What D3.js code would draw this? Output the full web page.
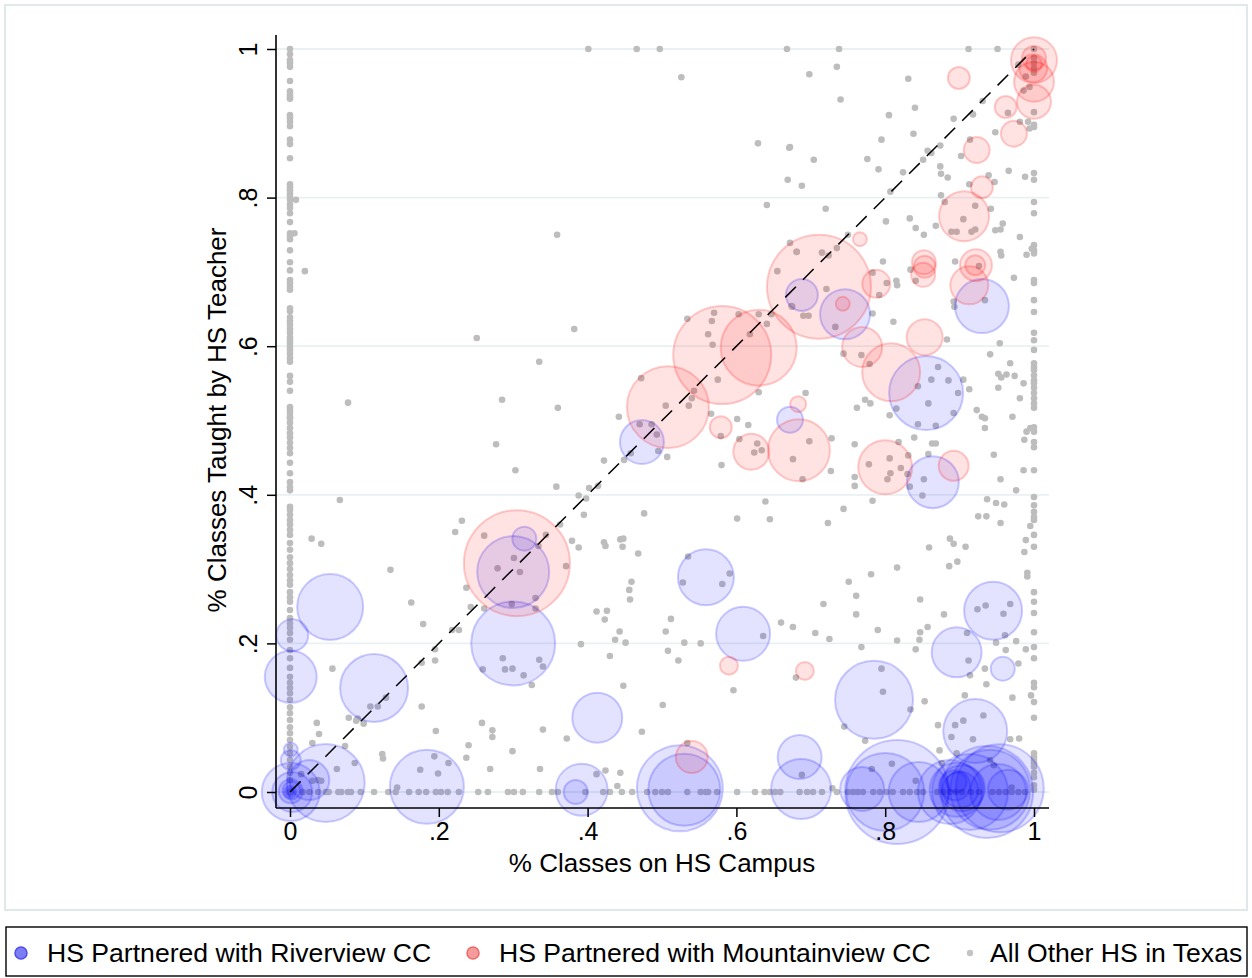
<!DOCTYPE html>
<html>
<head>
<meta charset="utf-8">
<script src="https://cdn.jsdelivr.net/npm/d3@7"></script>
<style>
  body { margin: 0; background: #fff; }
  svg text { font-family: "Liberation Sans", Arial, Helvetica, sans-serif; fill: #000; }
</style>
</head>
<body>
<script>
// tick values on both axes
var tickValues = [0, 0.2, 0.4, 0.6, 0.8, 1];

// HS partnered with Riverview CC: [share on HS campus, share taught by HS teacher, enrollment weight]
var riverview = [
  [0.001, 0, 841], [0.003, 0, 400], [0.001, 0.001, 144], [0, 0, 36], [0, 0, 16], [0.002, 0.002, 81],
  [0.026, 0.016, 400], [0.001, 0.043, 100], [0.001, 0.057, 49], [0.048, 0.012, 1521],
  [0.001, 0.155, 676], [0.003, 0.211, 256], [0.054, 0.249, 1089], [0.113, 0.14, 1156],
  [0.184, 0.007, 1369], [0.3, 0.2, 1764], [0.3, 0.296, 1296], [0.315, 0.341, 144],
  [0.413, 0.1, 625], [0.392, 0.003, 676], [0.384, 0, 144], [0.524, 0.005, 1849], [0.53, 0.003, 1296],
  [0.473, 0.471, 484], [0.559, 0.289, 784], [0.609, 0.213, 729], [0.685, 0.047, 484], [0.687, 0.004, 900],
  [0.785, 0.124, 1521], [0.816, 0, 2704], [0.8, 0, 1521], [0.845, 0, 900], [0.769, 0.004, 484],
  [0.896, 0.003, 729], [0.903, 0.005, 529], [0.937, 0, 2116], [0.941, 0.003, 1600], [0.952, 0, 784],
  [0.965, 0.003, 400], [0.896, 0.013, 100], [0.887, 0, 1024], [0.914, 0, 1444], [0.954, 0.005, 1936],
  [0.894, 0.009, 225], [0.901, 0.003, 324],
  [0.921, 0.082, 1024], [0.896, 0.188, 625], [0.958, 0.166, 144], [0.945, 0.244, 841],
  [0.864, 0.417, 676], [0.855, 0.537, 1369], [0.93, 0.654, 729], [0.746, 0.643, 625],
  [0.688, 0.669, 256], [0.672, 0.501, 169]
];

// HS partnered with Mountainview CC
var mountainview = [
  [0.305, 0.308, 2809], [0.508, 0.518, 1681], [0.581, 0.588, 2401], [0.63, 0.598, 1444],
  [0.711, 0.68, 2704], [0.579, 0.491, 121], [0.62, 0.458, 324], [0.684, 0.46, 961],
  [0.683, 0.522, 64], [0.743, 0.657, 49], [0.766, 0.744, 49], [0.788, 0.684, 196],
  [0.769, 0.599, 400], [0.808, 0.565, 841], [0.8, 0.437, 729], [0.892, 0.439, 225],
  [0.853, 0.612, 324], [0.852, 0.713, 144], [0.853, 0.707, 121], [0.851, 0.696, 144],
  [0.913, 0.682, 361], [0.922, 0.709, 256], [0.921, 0.709, 100], [0.906, 0.775, 625],
  [0.93, 0.814, 121], [0.923, 0.864, 169], [0.973, 0.886, 169], [0.962, 0.922, 121],
  [0.899, 0.961, 121], [1, 0.985, 529], [1, 0.956, 400], [1, 0.929, 289],
  [1, 0.988, 144], [0.999, 0.974, 196], [1, 0.98, 64],
  [0.54, 0.047, 256], [0.59, 0.17, 81], [0.692, 0.163, 81]
];

// all other HS in Texas with no classes on HS campus (y values)
var otherNoCampus = [1, 0.993, 0.985, 0.981, 0.976, 0.957, 0.943, 0.939, 0.935, 0.933, 0.911, 0.907, 0.902,
  0.896, 0.878, 0.872, 0.853, 0.818, 0.814, 0.81, 0.805, 0.801, 0.797, 0.791, 0.786, 0.779, 0.767, 0.752,
  0.748, 0.744, 0.729, 0.713, 0.702, 0.689, 0.685, 0.68, 0.676, 0.651, 0.647, 0.639, 0.634, 0.629, 0.623,
  0.618, 0.612, 0.608, 0.604, 0.599, 0.595, 0.59, 0.584, 0.579, 0.56, 0.552, 0.54, 0.518, 0.514, 0.51,
  0.505, 0.503, 0.497, 0.49, 0.483, 0.477, 0.47, 0.463, 0.456, 0.443, 0.429, 0.417, 0.41, 0.406, 0.384,
  0.38, 0.373, 0.366, 0.36, 0.353, 0.346, 0.335, 0.326, 0.316, 0.308, 0.3, 0.292, 0.285, 0.279, 0.269,
  0.262, 0.256, 0.245, 0.234, 0.227, 0.221, 0.214, 0.205, 0.191, 0.18, 0.167, 0.155, 0.147, 0.14, 0.133,
  0.124, 0.114, 0.106, 0.097, 0.087, 0.079, 0.07, 0.061, 0.052, 0.043, 0.034, 0.026, 0.016, 0];

// other HS with no classes taught by HS teacher (x values)
var otherNoTeacher = [0.017, 0.026, 0.038, 0.048, 0.052, 0.065, 0.069, 0.078, 0.082, 0.095, 0.113, 0.132,
  0.142, 0.16, 0.173, 0.183, 0.196, 0.203, 0.212, 0.227, 0.253, 0.266, 0.293, 0.301, 0.313, 0.335, 0.352,
  0.36, 0.397, 0.421, 0.43, 0.446, 0.46, 0.48, 0.491, 0.5, 0.508, 0.534, 0.552, 0.559, 0.562, 0.574, 0.601,
  0.625, 0.638, 0.645, 0.652, 0.659, 0.685, 0.695, 0.703, 0.715, 0.735, 0.75, 0.757, 0.763, 0.77, 0.784,
  0.793, 0.802, 0.81, 0.824, 0.833, 0.843, 0.851, 0.87, 0.878, 0.887, 0.895, 0.903, 0.915, 0.926, 0.944,
  0.953, 0.962, 0.97, 0.979, 0.988];

// other HS with all classes on HS campus (y values)
var otherAllCampus = [1, 0.988, 0.981, 0.974, 0.968, 0.915, 0.898, 0.895, 0.833, 0.824, 0.794, 0.779, 0.736,
  0.729, 0.725, 0.689, 0.685, 0.662, 0.646, 0.618, 0.608, 0.595, 0.577, 0.572, 0.568, 0.561, 0.554, 0.55,
  0.544, 0.537, 0.53, 0.523, 0.517, 0.491, 0.485, 0.471, 0.464, 0.433, 0.397, 0.386, 0.377, 0.37, 0.366,
  0.346, 0.33, 0.269, 0.256, 0.241, 0.215, 0.195, 0.18, 0.147, 0.141, 0.121, 0.1, 0.052, 0.047, 0.043,
  0.039, 0.034, 0.026, 0.02, 0.009, 0.003];

// remaining other HS [x, y]
var otherScattered = [
  [0.401, 1], [0.466, 1], [0.497, 1], [0.668, 1], [0.526, 0.962], [0.629, 0.873], [0.671, 0.867],
  [0.669, 0.824], [0.641, 0.79], [0.359, 0.75], [0.382, 0.623], [0.335, 0.579], [0.36, 0.517],
  [0.442, 0.505], [0.472, 0.557], [0.505, 0.52], [0.536, 0.52], [0.54, 0.53], [0.543, 0.54],
  [0.575, 0.555], [0.562, 0.616], [0.568, 0.602], [0.567, 0.634], [0.57, 0.645], [0.534, 0.637],
  [0.603, 0.643], [0.618, 0.616], [0.63, 0.643], [0.641, 0.63], [0.647, 0.643], [0.63, 0.538],
  [0.655, 0.701], [0.672, 0.739], [0.681, 0.727], [0.675, 0.653], [0.566, 0.509], [0.601, 0.502],
  [0.008, 0.797], [0.006, 0.752], [0.02, 0.701], [0.251, 0.611], [0.078, 0.524], [0.285, 0.528],
  [0.738, 1], [0.912, 1], [0.951, 1], [0.735, 0.976], [0.698, 0.966], [0.831, 0.96], [0.74, 0.932],
  [0.84, 0.921], [0.805, 0.911], [0.892, 0.906], [0.918, 0.912], [0.931, 0.93], [0.981, 0.902],
  [0.992, 0.902], [0.994, 0.893], [0.965, 0.914], [0.948, 0.888], [0.986, 0.944], [0.994, 0.949],
  [0.989, 0.963], [0.979, 0.979], [0.795, 0.878], [0.838, 0.886], [0.914, 0.878], [0.902, 0.856],
  [0.862, 0.86], [0.857, 0.863], [0.874, 0.87], [0.851, 0.851], [0.776, 0.852], [0.704, 0.851],
  [0.672, 0.868], [0.791, 0.838], [0.824, 0.834], [0.874, 0.842], [0.875, 0.832], [0.884, 0.827],
  [0.913, 0.818], [0.939, 0.83], [0.947, 0.821], [0.966, 0.836], [0.988, 0.828], [0.688, 0.816],
  [0.807, 0.808], [0.875, 0.803], [0.88, 0.794], [0.921, 0.789], [0.942, 0.785], [0.72, 0.785],
  [0.801, 0.768], [0.833, 0.772], [0.841, 0.759], [0.852, 0.75], [0.868, 0.762], [0.889, 0.754],
  [0.896, 0.754], [0.905, 0.771], [0.916, 0.754], [0.921, 0.757], [0.948, 0.756], [0.955, 0.757],
  [0.958, 0.765], [0.981, 0.747], [0.75, 0.75], [0.681, 0.727], [0.715, 0.726], [0.724, 0.722],
  [0.735, 0.732], [0.797, 0.714], [0.834, 0.703], [0.841, 0.688], [0.894, 0.714], [0.926, 0.708],
  [0.955, 0.727], [0.956, 0.722], [0.99, 0.723], [0.997, 0.731], [0.973, 0.692], [0.783, 0.699],
  [0.802, 0.685], [0.815, 0.688], [0.816, 0.682], [0.792, 0.669], [0.721, 0.677], [0.783, 0.644],
  [0.811, 0.633], [0.733, 0.626], [0.69, 0.641], [0.697, 0.641], [0.674, 0.654], [0.934, 0.662],
  [0.892, 0.66], [0.893, 0.653], [0.883, 0.609], [0.954, 0.604], [0.941, 0.589], [0.968, 0.577],
  [0.952, 0.563], [0.956, 0.558], [0.963, 0.562], [0.974, 0.56], [0.986, 0.55], [0.952, 0.544],
  [0.981, 0.53], [0.744, 0.59], [0.768, 0.588], [0.779, 0.576], [0.871, 0.572], [0.885, 0.554],
  [0.862, 0.555], [0.844, 0.546], [0.905, 0.555], [0.913, 0.542], [0.898, 0.537], [0.858, 0.523],
  [0.815, 0.516], [0.806, 0.507], [0.762, 0.517], [0.773, 0.528], [0.78, 0.523], [0.693, 0.537],
  [0.923, 0.514], [0.93, 0.505], [0.971, 0.505],
  [0.067, 0.393], [0.277, 0.468], [0.303, 0.433], [0.029, 0.341], [0.042, 0.334], [0.135, 0.299],
  [0.163, 0.255], [0.179, 0.226], [0.222, 0.35], [0.231, 0.365], [0.261, 0.345], [0.237, 0.275],
  [0.243, 0.249], [0.261, 0.247], [0.218, 0.218], [0.227, 0.218], [0.195, 0.192], [0.195, 0.177],
  [0.177, 0.174], [0.057, 0.166], [0.108, 0.115], [0.118, 0.115], [0.091, 0.099], [0.099, 0.092],
  [0.089, 0.096], [0.079, 0.1], [0.129, 0.127], [0.177, 0.115], [0.036, 0.093], [0.039, 0.078],
  [0.03, 0.066], [0.074, 0.062], [0.124, 0.051], [0.125, 0.045], [0.063, 0.031], [0.087, 0.039],
  [0.015, 0.024], [0.03, 0.015], [0.037, 0.016], [0.042, 0.015], [0.194, 0.048], [0.175, 0.03],
  [0.199, 0.025], [0.213, 0.039], [0.258, 0.093], [0.272, 0.083], [0.272, 0.074], [0.24, 0.063],
  [0.237, 0.046], [0.269, 0.031], [0.299, 0.055], [0.196, 0.082], [0.144, 0.006], [0.279, 0.301],
  [0.301, 0.315], [0.309, 0.296], [0.298, 0.253], [0.33, 0.261], [0.33, 0.247], [0.286, 0.18],
  [0.289, 0.165], [0.299, 0.166], [0.314, 0.157], [0.325, 0.144], [0.259, 0.165], [0.335, 0.178],
  [0.616, 0.494], [0.47, 0.495], [0.486, 0.495], [0.493, 0.481], [0.495, 0.459], [0.507, 0.451],
  [0.422, 0.446], [0.449, 0.447], [0.458, 0.456], [0.414, 0.412], [0.402, 0.409], [0.388, 0.399],
  [0.398, 0.395], [0.358, 0.411], [0.363, 0.36], [0.344, 0.346], [0.334, 0.331], [0.379, 0.338],
  [0.388, 0.329], [0.371, 0.304], [0.395, 0.373], [0.422, 0.336], [0.424, 0.331], [0.444, 0.34],
  [0.448, 0.341], [0.447, 0.33], [0.468, 0.321], [0.476, 0.375], [0.459, 0.283], [0.456, 0.272],
  [0.457, 0.259], [0.412, 0.243], [0.426, 0.244], [0.423, 0.232], [0.443, 0.216], [0.437, 0.205],
  [0.451, 0.201], [0.43, 0.183], [0.391, 0.199], [0.512, 0.233], [0.505, 0.216], [0.53, 0.201],
  [0.552, 0.2], [0.508, 0.19], [0.522, 0.177], [0.535, 0.317], [0.528, 0.282], [0.591, 0.294],
  [0.581, 0.28], [0.579, 0.479], [0.604, 0.475], [0.628, 0.469], [0.624, 0.457], [0.634, 0.46],
  [0.58, 0.44], [0.601, 0.368], [0.639, 0.391], [0.645, 0.367], [0.66, 0.228], [0.676, 0.222],
  [0.636, 0.21], [0.596, 0.137], [0.501, 0.117], [0.473, 0.081], [0.448, 0.143], [0.34, 0.084],
  [0.372, 0.072], [0.336, 0.031], [0.412, 0.024], [0.424, 0.029], [0.444, 0.026], [0.44, 0.008],
  [0.534, 0.066], [0.34, 0.169], [0.68, 0.154],
  [0.892, 0.51], [0.934, 0.503], [0.934, 0.49], [0.99, 0.485], [0.995, 0.49], [0.987, 0.474],
  [0.844, 0.495], [0.868, 0.493], [0.839, 0.477], [0.863, 0.469], [0.868, 0.469], [0.858, 0.455],
  [0.818, 0.471], [0.759, 0.468], [0.728, 0.476], [0.698, 0.472], [0.676, 0.448], [0.727, 0.432],
  [0.689, 0.421], [0.778, 0.441], [0.806, 0.449], [0.807, 0.429], [0.821, 0.436], [0.803, 0.421],
  [0.831, 0.453], [0.83, 0.428], [0.759, 0.424], [0.759, 0.412], [0.833, 0.411], [0.852, 0.421],
  [0.85, 0.399], [0.783, 0.392], [0.744, 0.381], [0.723, 0.362], [0.946, 0.454], [0.955, 0.421],
  [0.986, 0.433], [0.976, 0.406], [0.937, 0.394], [0.949, 0.389], [0.96, 0.387], [0.925, 0.371],
  [0.936, 0.371], [0.955, 0.362], [0.995, 0.358], [0.989, 0.339], [0.987, 0.323], [0.887, 0.341],
  [0.892, 0.334], [0.908, 0.33], [0.859, 0.329], [0.886, 0.304], [0.897, 0.31], [0.816, 0.302],
  [0.781, 0.293], [0.751, 0.283], [0.761, 0.264], [0.717, 0.253], [0.761, 0.239], [0.706, 0.214],
  [0.725, 0.206], [0.768, 0.195], [0.79, 0.218], [0.816, 0.204], [0.841, 0.192], [0.847, 0.215],
  [0.846, 0.205], [0.857, 0.222], [0.847, 0.259], [0.879, 0.239], [0.924, 0.246], [0.935, 0.251],
  [0.959, 0.24], [0.968, 0.253], [0.961, 0.211], [0.949, 0.201], [0.962, 0.191], [0.976, 0.203],
  [0.989, 0.192], [0.979, 0.173], [0.91, 0.214], [0.912, 0.177], [0.914, 0.157], [0.934, 0.166],
  [0.936, 0.145], [0.907, 0.13], [0.853, 0.122], [0.834, 0.111], [0.795, 0.166], [0.797, 0.135],
  [0.745, 0.088], [0.773, 0.069], [0.971, 0.127], [0.996, 0.13], [0.991, 0.295], [0.991, 0.29],
  [0.871, 0.09], [0.894, 0.09], [0.905, 0.096], [0.932, 0.103], [0.889, 0.074], [0.918, 0.071],
  [0.968, 0.071], [0.98, 0.072], [0.873, 0.056], [0.896, 0.052], [0.782, 0.031], [0.809, 0.038],
  [0.841, 0.015], [0.941, 0.043], [0.946, 0.036], [0.729, 0.005], [0.688, 0.023], [0.97, 0.006],
  [0.876, 0.039]
];

var legendLabels = ["HS Partnered with Riverview CC", "HS Partnered with Mountainview CC", "All Other HS in Texas"];

var width = 1252, height = 978;

var svg = d3.select("body").append("svg")
  .attr("width", width)
  .attr("height", height);

// outer graph frame
svg.append("rect")
  .attr("x", 5).attr("y", 5)
  .attr("width", 1242).attr("height", 905)
  .attr("fill", "none")
  .attr("stroke", "#e1e8ea")
  .attr("stroke-width", 2);

var x = d3.scaleLinear().domain([0, 1]).range([290, 1034]);
var y = d3.scaleLinear().domain([0, 1]).range([792, 49]);
var r = d3.scaleSqrt().domain([0, 2809]).range([0, 53]);

var fmt = function(d){ return d === 0 ? "0" : d === 1 ? "1" : String(d).replace("0.", "."); };

// gridlines
svg.append("g").selectAll("line")
  .data(tickValues)
  .join("line")
  .attr("x1", 276).attr("x2", 1049)
  .attr("y1", d => y(d)).attr("y2", d => y(d))
  .attr("stroke", "#e9f1f3")
  .attr("stroke-width", 1.8);

// gray dots for all other high schools
var others = otherNoCampus.map(v => [0, v])
  .concat(otherNoTeacher.map(v => [v, 0]))
  .concat(otherAllCampus.map(v => [1, v]))
  .concat(otherScattered);

svg.append("g").selectAll("circle")
  .data(others)
  .join("circle")
  .attr("cx", d => x(d[0]))
  .attr("cy", d => y(d[1]))
  .attr("r", 3.3)
  .attr("fill", "#bdbdbd");

// bubbles, largest first
function bubbles(data, rgb){
  svg.append("g").selectAll("circle")
    .data(data.slice().sort((a, b) => b[2] - a[2]))
    .join("circle")
    .attr("cx", d => x(d[0]))
    .attr("cy", d => y(d[1]))
    .attr("r", d => r(d[2]))
    .attr("fill", "rgba(" + rgb + ",0.11)")
    .attr("stroke", "rgba(" + rgb + ",0.2)")
    .attr("stroke-width", 2);
}
bubbles(riverview, "0,0,255");
bubbles(mountainview, "255,0,0");

// 45 degree reference line
svg.append("line")
  .attr("x1", x(0)).attr("y1", y(0))
  .attr("x2", x(1)).attr("y2", y(1))
  .attr("stroke", "#000")
  .attr("stroke-width", 1.5)
  .attr("stroke-dasharray", "15,10");

// x axis
var xAxis = svg.append("g")
  .attr("transform", "translate(0,808)")
  .call(d3.axisBottom(x).tickValues(tickValues).tickFormat(fmt).tickSize(9).tickPadding(5));
xAxis.select(".domain").remove();
xAxis.selectAll("line").attr("stroke-width", 1.5);
xAxis.selectAll("text").style("font-size", "25px");
svg.append("line")
  .attr("x1", 276).attr("x2", 1049).attr("y1", 808).attr("y2", 808)
  .attr("stroke", "#000").attr("stroke-width", 1.6);

// y axis, labels turned like Stata
var yAxis = svg.append("g")
  .attr("transform", "translate(276,0)")
  .call(d3.axisLeft(y).tickValues(tickValues).tickFormat(fmt).tickSize(9));
yAxis.select(".domain").remove();
yAxis.selectAll("line").attr("stroke-width", 1.5);
yAxis.selectAll("text")
  .attr("x", 0).attr("y", -19).attr("dy", null)
  .attr("text-anchor", "middle")
  .attr("transform", "rotate(-90)")
  .style("font-size", "25px");
svg.append("line")
  .attr("x1", 276).attr("x2", 276).attr("y1", 35).attr("y2", 808)
  .attr("stroke", "#000").attr("stroke-width", 1.6);

// axis titles
svg.append("text")
  .attr("x", 662).attr("y", 872)
  .attr("text-anchor", "middle")
  .style("font-size", "26px")
  .text("% Classes on HS Campus");

svg.append("text")
  .attr("transform", "translate(226,420) rotate(-90)")
  .attr("text-anchor", "middle")
  .style("font-size", "26px")
  .text("% Classes Taught by HS Teacher");

// legend
svg.append("rect")
  .attr("x", 6).attr("y", 927)
  .attr("width", 1241).attr("height", 49)
  .attr("fill", "#fff")
  .attr("stroke", "#000")
  .attr("stroke-width", 1.4);

var legendX = [21, 473, 970];
var legendMarks = [
  {r: 6, fill: "#7d7df4", stroke: "#4d4df0"},
  {r: 6, fill: "#f49c9c", stroke: "#ee6a6a"},
  {r: 3.2, fill: "#c4c4c4", stroke: "none"}
];

var items = svg.append("g").selectAll("g")
  .data(legendLabels)
  .join("g")
  .attr("transform", (d, i) => "translate(" + legendX[i] + ",953)");

items.append("circle")
  .attr("r", (d, i) => legendMarks[i].r)
  .attr("fill", (d, i) => legendMarks[i].fill)
  .attr("stroke", (d, i) => legendMarks[i].stroke)
  .attr("stroke-width", 1.5);

items.append("text")
  .attr("x", (d, i) => i === 2 ? 20 : 26)
  .attr("y", 9)
  .style("font-size", "26.6px")
  .text(d => d);
</script>
</body>
</html>
